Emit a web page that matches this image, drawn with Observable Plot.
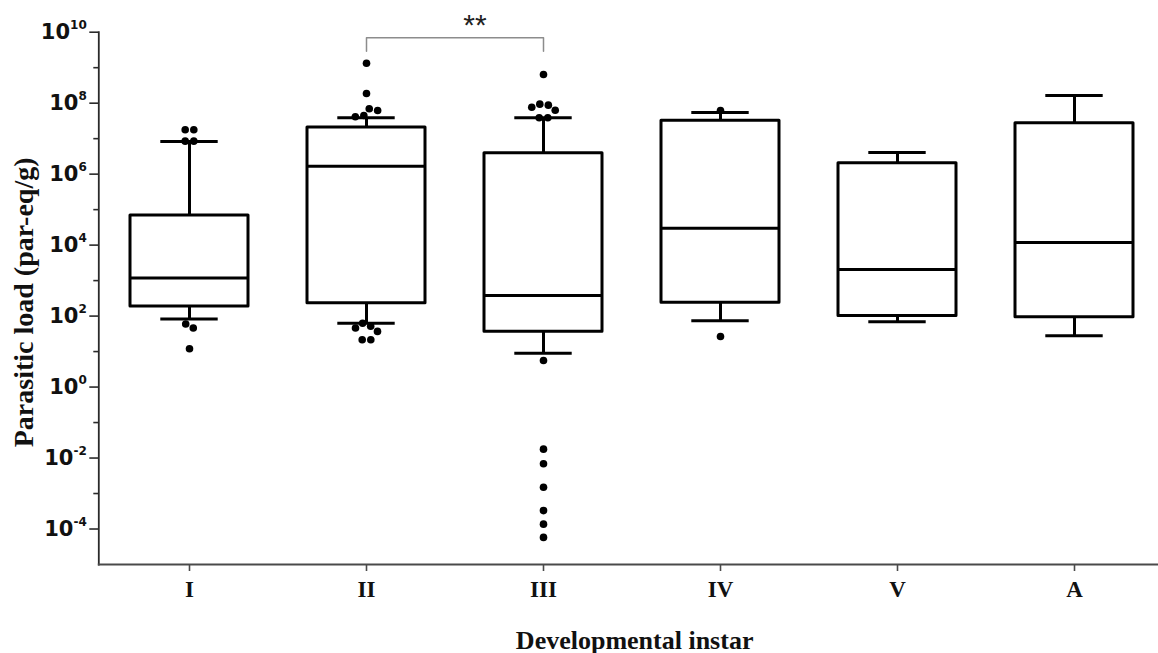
<!DOCTYPE html>
<html>
<head>
<meta charset="utf-8">
<script src="https://cdn.jsdelivr.net/npm/d3@7"></script>
<script src="https://cdn.jsdelivr.net/npm/@observablehq/plot@0.6"></script>
<style>
  html, body { margin: 0; padding: 0; background: #fff; }
</style>
</head>
<body>
<div id="chart"></div>
<script>
// ---- data ----
const instars = ["I", "II", "III", "IV", "V", "A"];
const whiskerLow  = [83,     63,     9.0,   74,     69,     28];
const q1          = [186,    231,    36,    237,    100,    93];
const median      = [1175,   1.67e6, 381,   3.0e4,  2060,   1.19e4];
const q3          = [6.8e4,  2.07e7, 3.9e6, 3.18e7, 2.04e6, 2.73e7];
const whiskerHigh = [8.3e6,  3.87e7, 3.87e7, 5.46e7, 4.07e6, 1.64e8];

const outlierInstar = [
  "I", "I", "I", "I", "I", "I", "I",
  "II", "II", "II", "II", "II", "II", "II", "II", "II", "II", "II", "II",
  "III", "III", "III", "III", "III", "III", "III", "III", "III", "III", "III", "III", "III", "III",
  "IV", "IV"
];
const outlierValue = [
  1.78e7, 1.78e7, 8.5e6, 8.5e6, 60, 46, 12,
  1.34e9, 1.87e8, 6.95e7, 6.2e7, 4.5e7, 4.13e7, 63, 52, 46, 37, 21.5, 21.5,
  6.4e8, 9.4e7, 8.8e7, 7.7e7, 6.3e7, 3.87e7, 3.87e7, 5.6, 0.0178, 0.0069, 0.0015, 3.3e-4, 1.37e-4, 5.8e-5,
  6.2e7, 26.7
];

const yMajorTicks = [1e-4, 1e-2, 1, 1e2, 1e4, 1e6, 1e8, 1e10];
const yMinorTicks = [1e-3, 1e-1, 10, 1e3, 1e5, 1e7, 1e9];

const sigFrom = ["II"];
const sigTo = ["III"];
const sigLabel = ["**"];
const sigBracketY = [2.92e9, 6.95e9]; // bracket foot / bracket top (data units)
const sigLabelY = [3.4e10];

const yTitle = "Parasitic load (par-eq/g)";
const xTitle = "Developmental instar";

// ---- derived tables ----
const stats = instars.map((c, i) => ({
  instar: c, low: whiskerLow[i], q1: q1[i], median: median[i], q3: q3[i], high: whiskerHigh[i]
}));
const outliers = outlierInstar.map((c, i) => ({instar: c, value: outlierValue[i]}));
const bracket = sigFrom.flatMap((f, k) => [
  {x: f, y: sigBracketY[0]}, {x: f, y: sigBracketY[1]},
  {x: sigTo[k], y: sigBracketY[1]}, {x: sigTo[k], y: sigBracketY[0]}
]);

// ---- layout ----
const W = 1158, H = 653;
const xRange = [98.3, 1164.5];
const xStep = (xRange[1] - xRange[0]) / instars.length;
const dotR = 3.8, dotGap = 1.0;

// symmetric per-column dodge of the outlier dots (like a column scatter)
function dodgeColumns(options) {
  return Plot.initializer(options, (data, facets, channels, scales) => {
    const sx = scales.x, sy = scales.y;
    const C = channels.x.value, V = channels.y.value;
    const n = C.length;
    const X = new Float64Array(n), Y = new Float64Array(n);
    const D = 2 * dotR + dotGap;
    for (const facet of facets) {
      const groups = d3.group(Array.from(facet), i => C[i]);
      for (const [cat, idx] of groups) {
        const cx = sx(cat); // band centre (scale already centred for point marks)
        const placed = [];
        for (const i of idx) {
          const y = sy(V[i]);
          Y[i] = y;
          const cands = [0];
          for (const j of placed) {
            const dy = Math.abs(y - Y[j]);
            if (dy < D) {
              const h = Math.sqrt(D * D - dy * dy);
              cands.push(X[j] + h, X[j] - h);
            }
          }
          cands.sort((a, b) => Math.abs(a) - Math.abs(b) || b - a);
          let best = cands[cands.length - 1];
          for (const c of cands) {
            if (placed.every(j => (c - X[j]) ** 2 + (y - Y[j]) ** 2 >= D * D - 1e-6)) { best = c; break; }
          }
          X[i] = best;
          placed.push(i);
        }
        // centre each touching cluster on the column axis
        const parent = new Map(idx.map(i => [i, i]));
        const find = i => (parent.get(i) === i ? i : find(parent.get(i)));
        for (const a of idx) for (const b of idx) {
          if (a < b && Math.hypot(X[a] - X[b], Y[a] - Y[b]) < D + 0.5) {
            const ra = find(a), rb = find(b);
            if (ra !== rb) parent.set(ra, rb);
          }
        }
        const clusters = d3.group(idx, find);
        for (const members of clusters.values()) {
          const [lo, hi] = d3.extent(members, i => X[i]);
          const shift = (lo + hi) / 2;
          for (const i of members) X[i] -= shift;
        }
        for (const i of idx) X[i] += cx;
      }
    }
    return {data, facets, channels: {x: {value: X}, y: {value: Y}}};
  });
}

const boxStroke = 3;

const chart = Plot.plot({
  width: W,
  height: H,
  marginTop: 31.7,
  marginBottom: 89,
  marginLeft: 98.3,
  marginRight: 0,
  style: {background: "white", overflow: "visible"},
  x: {type: "band", domain: instars, range: xRange, paddingInner: 0.334, paddingOuter: 0.167},
  y: {type: "log", domain: [1e-5, 1e10]},
  marks: [
    // axes
    Plot.frame({anchor: "left", stroke: "#2a2a2a", strokeWidth: 1.8}),
    Plot.frame({anchor: "bottom", stroke: "#4a4a4a", strokeWidth: 2}),
    Plot.axisY({
      ticks: yMajorTicks, tickSize: 9, tickPadding: 3, label: null,
      tickFormat: d => `10^${Math.round(Math.log10(d))}`,
      stroke: "#2a2a2a", strokeWidth: 1.6,
      fill: "#111", fontSize: 21, fontFamily: "DejaVu Sans", fontWeight: "bold"
    }),
    Plot.axisY({
      ticks: yMinorTicks, tickSize: 5, label: null, tickFormat: () => "",
      stroke: "#2a2a2a", strokeWidth: 1.6
    }),
    Plot.axisX({
      tickSize: 7, tickPadding: 9, label: null,
      stroke: "#4a4a4a", strokeWidth: 1.6,
      fill: "#111", fontSize: 23, fontFamily: "Liberation Serif", fontWeight: "bold"
    }),
    // axis titles
    Plot.text([yTitle], {
      text: d => d, frameAnchor: "left", rotate: -90, dx: -75, dy: 4,
      textAnchor: "middle", lineAnchor: "middle",
      fontSize: 28, fontFamily: "Liberation Serif", fontWeight: "bold", fill: "#111"
    }),
    Plot.text([xTitle], {
      text: d => d, frameAnchor: "bottom", dy: 76, dx: 6,
      textAnchor: "middle", lineAnchor: "middle",
      fontSize: 26, fontFamily: "Liberation Serif", fontWeight: "bold", fill: "#111"
    }),
    // boxes
    Plot.ruleX(stats, {x: "instar", y1: "q3", y2: "high", stroke: "#000", strokeWidth: boxStroke}),
    Plot.ruleX(stats, {x: "instar", y1: "low", y2: "q1", stroke: "#000", strokeWidth: boxStroke}),
    Plot.barY(stats, {x: "instar", y1: "q1", y2: "q3", fill: "white", stroke: "#000", strokeWidth: boxStroke, strokeLinejoin: "round"}),
    Plot.tickY(stats, {x: "instar", y: "median", stroke: "#000", strokeWidth: boxStroke}),
    Plot.tickY(stats, {x: "instar", y: "high", stroke: "#000", strokeWidth: boxStroke, insetLeft: 30.3, insetRight: 30.3}),
    Plot.tickY(stats, {x: "instar", y: "low", stroke: "#000", strokeWidth: boxStroke, insetLeft: 30.3, insetRight: 30.3}),
    // outliers
    Plot.dot(outliers, dodgeColumns({x: "instar", y: "value", r: dotR, fill: "#000", stroke: "none"})),
    // significance bracket
    Plot.line(bracket, {x: "x", y: "y", stroke: "#8c8c8c", strokeWidth: 1.5}),
    Plot.text(sigLabel, {
      text: d => d, x: sigFrom, y: sigLabelY, dx: xStep * 0.61,
      lineAnchor: "top", fontSize: 30, fontFamily: "Liberation Sans", fill: "#222"
    })
  ]
});

// superscript exponents on the y tick labels
const NS = "http://www.w3.org/2000/svg";
chart.querySelectorAll("text").forEach(t => {
  if (t.children.length === 0 && t.textContent.includes("^")) {
    const [base, exp] = t.textContent.split("^");
    t.textContent = base;
    const ts = document.createElementNS(NS, "tspan");
    ts.setAttribute("dy", "-10");
    ts.setAttribute("font-size", "12");
    ts.textContent = exp;
    t.appendChild(ts);
  }
});

document.getElementById("chart").appendChild(chart);
</script>
</body>
</html>
